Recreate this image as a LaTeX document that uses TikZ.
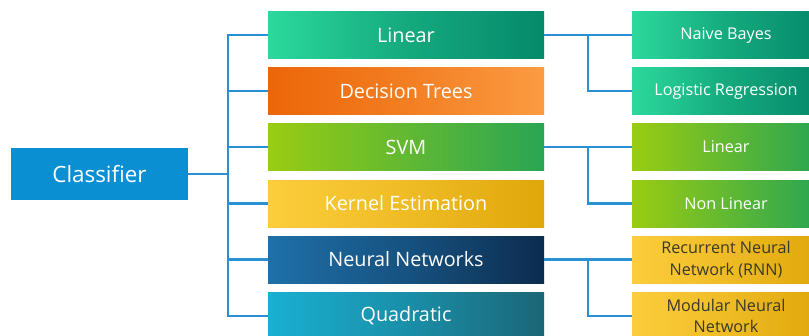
\documentclass[tikz,border=0pt]{standalone}
\usepackage{fontspec}
\setmainfont{Open Sans}
\definecolor{linec}{HTML}{2B8FD3}
\definecolor{clsc}{HTML}{0A8FD2}
\definecolor{tealA}{HTML}{2CD99C}
\definecolor{tealB}{HTML}{058A6A}
\definecolor{orA}{HTML}{EC6608}
\definecolor{orB}{HTML}{FB9B42}
\definecolor{grA}{HTML}{9ACC12}
\definecolor{grB}{HTML}{29A553}
\definecolor{yeA}{HTML}{FCCD3C}
\definecolor{yeB}{HTML}{DFA70A}
\definecolor{blA}{HTML}{1F70A9}
\definecolor{blB}{HTML}{0C2C4E}
\definecolor{cyA}{HTML}{19B0D2}
\definecolor{cyB}{HTML}{1B6676}
\definecolor{darktxt}{HTML}{3A382A}
\tikzset{
  mid/.style={minimum width=276pt, minimum height=47pt, inner sep=0pt, text=white, font=\fontsize{19.8}{22}\selectfont},
  rbox/.style={minimum width=188pt, minimum height=47pt, inner sep=0pt, text=white, font=\fontsize{16.2}{21.5}\selectfont, align=center},
  teal/.style={left color=tealA, right color=tealB, middle color=tealB!60!tealA},
  orng/.style={left color=orA, right color=orB, middle color=orA!55!orB},
  grn/.style={left color=grA, right color=grB, middle color=grA!50!grB},
  yel/.style={left color=yeA, right color=yeB, middle color=yeA!55!yeB},
  blu/.style={left color=blA, right color=blB, middle color=blA!55!blB},
  cyn/.style={left color=cyA, right color=cyB, middle color=cyA!55!cyB},
  conn/.style={draw=linec, line width=2.2pt}
}
\begin{document}
\begin{tikzpicture}[x=1pt,y=-1pt]
\useasboundingbox (0,0) rectangle (809,335);
\clip (0,0) rectangle (809,335);
\fill[white] (0,0) rectangle (809,335);
\node[fill=clsc, minimum width=177pt, minimum height=52pt, inner sep=0pt, text=white, font=\fontsize{22.4}{24}\selectfont] (cls) at (99.5,174) {Classifier};

\node[mid, teal] (lin) at (406,35) {Linear};
\node[mid, orng] (dt) at (406,91) {Decision Trees};
\node[mid, grn] (svm) at (406,147) {SVM};
\node[mid, yel] (ke) at (406,203.5) {Kernel Estimation};
\node[mid, blu] (nn) at (406,259.5) {Neural Networks};
\node[mid, cyn] (qu) at (406,316) {Quadratic};

\node[rbox, teal] (nb) at (726,35) {Naive Bayes};
\node[rbox, teal] (lr) at (726,91) {Logistic Regression};
\node[rbox, grn] (l2) at (726,147) {Linear};
\node[rbox, grn] (nl) at (726,203.5) {Non Linear};
\node[rbox, yel, text=darktxt] (rnn) at (726,259.5) {Recurrent Neural\\Network (RNN)};
\node[rbox, yel, text=darktxt] (mnn) at (726,316) {Modular Neural\\Network};

\coordinate (tr) at (228,174);
\draw[conn] (cls.east) -- (tr);
\foreach \n in {lin,dt,svm,ke,nn,qu}{
  \draw[conn] (tr) |- (\n.west);
}
\draw[conn] (lin.east) -- (nb.west);
\draw[conn] (lin.east) ++(44,0) coordinate (j1);
\draw[conn] (j1) |- (lr.west);
\draw[conn] (svm.east) -- (l2.west);
\draw[conn] (svm.east) ++(44,0) coordinate (j2);
\draw[conn] (j2) |- (nl.west);
\draw[conn] (nn.east) -- (rnn.west);
\draw[conn] (nn.east) ++(44,0) coordinate (j3);
\draw[conn] (j3) |- (mnn.west);
\end{tikzpicture}
\end{document}
